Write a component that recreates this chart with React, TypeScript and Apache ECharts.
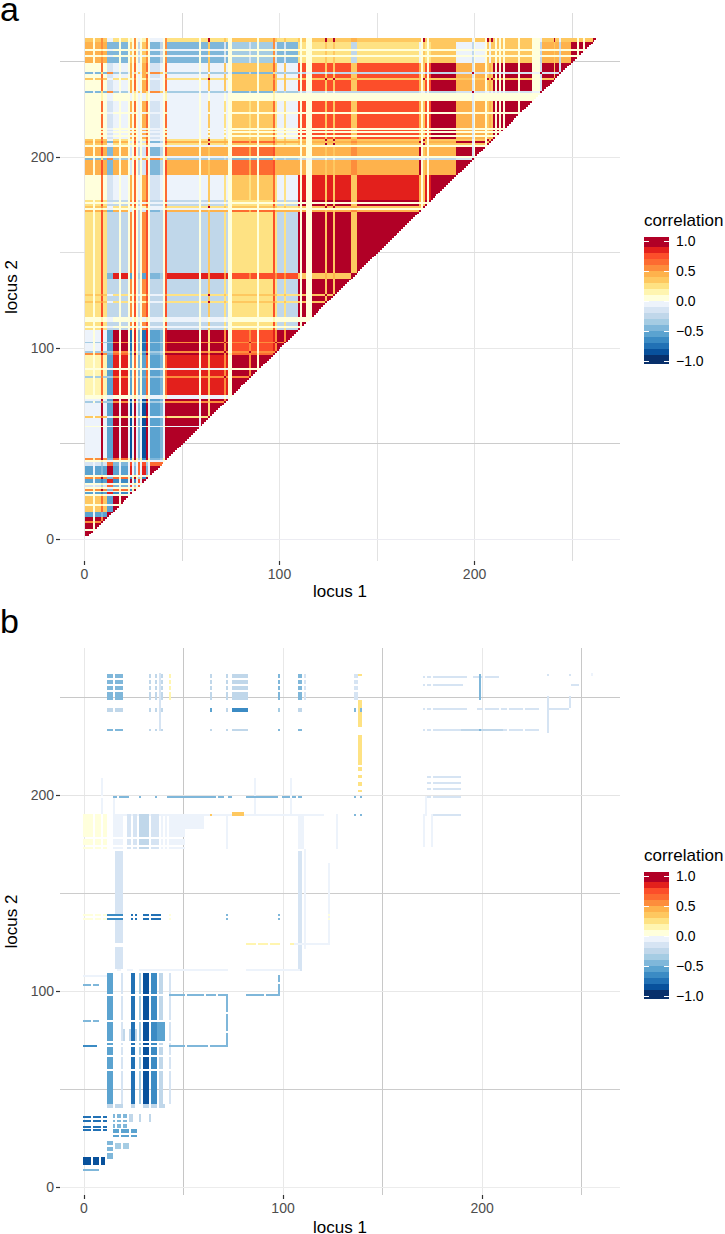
import React, { useEffect, useRef } from "react";
import * as echarts from "echarts";

// ---------- scale ----------
const palette = [
  "#08306b", "#08519c", "#2171b5", "#3b8bc4", "#5ba3d0", "#7fb7da", "#a5cce3", "#c0d7ea", "#d6e4f3", "#edf3fb",
  "#ffffdc", "#fff5b0", "#fee283", "#fec860", "#feb24c", "#fd8d3c", "#fd6b31", "#fc4e2a", "#e3201c", "#b10026",
];
const legendTicks = [-1, -0.5, 0, 0.5, 1];
const axisTicks = [0, 100, 200];

// ---------- panel a: class of each locus (class:last locus of the run) ----------
const classOrder = ["z", "w", "t", "f", "m", "a", "e", "g", "y", "n", "o", "h", "r", "i", "p", "b", "j", "q", "l", "k"];
const locusRunsA =
  "z:4 w:5 z:8 t:9 z:11 f:14 a:17 w:18 a:22 w:23 e:24 w:25 t:26 w:27 g:28 w:29 e:31 t:32 w:33 f:38 g:40 w:41 t:42 " +
  "m:58 w:59 m:63 k:64 m:71 y:72 m:73 w:75 n:84 y:85 n:88 w:89 n:96 t:97 y:98 o:102 y:103 o:109 h:110 w:111 h:113 w:116 " +
  "h:123 k:124 h:127 k:128 h:136 r:139 h:171 p:172 w:173 k:174 h:175 w:176 h:177 i:190 p:198 b:199 w:200 p:205 w:206 k:207 p:208 k:209 " +
  "j:210 w:211 j:212 w:213 j:214 w:215 j:222 w:223 j:229 w:233 b:234 q:240 k:241 q:243 b:244 q:249 l:252 w:253 l:255 w:256 l:260 k:262";
// lower triangle of the correlation between classes, same order as classOrder
const classCorrelation: number[][] = [
  [1],
  [0.05, 0.03],
  [0.5, 0.1, 0.95],
  [-0.55, -0.05, -0.5, 0.95],
  [-0.05, -0.02, 0.95, -0.55, 1],
  [0.35, 0.05, 0.6, -0.6, 1, 1],
  [-0.6, -0.05, -0.7, 0.85, -0.8, -0.7, 1],
  [-0.2, -0.03, -0.4, 0.6, -0.5, -0.5, 0.7, 0.6],
  [-0.4, 0.05, 0.5, -0.4, 0.55, 0.55, -0.5, -0.3, 0.95],
  [0.15, 0.03, 0.65, -0.55, 0.85, 0.85, -0.6, -0.45, 0.55, 0.95],
  [-0.05, 0.03, 0.85, -0.55, 0.95, 0.95, -0.75, -0.5, 0.55, 0.75, 1],
  [0.25, 0.03, 0.75, -0.25, -0.25, -0.25, 0.55, -0.25, 0.25, 0.25, -0.25, 1],
  [0.2, 0.05, 0.7, -0.5, 0.85, 0.85, -0.6, -0.4, 0.5, 0.7, 0.7, 0.35, 0.95],
  [0.08, 0.03, 0.65, -0.15, -0.05, -0.05, 0.45, -0.08, 0.25, 0.38, -0.05, 0.85, 0.35, 1],
  [0.45, 0.03, 0.7, -0.45, 0.45, 0.45, -0.2, -0.3, 0.4, 0.65, 0.45, 0.42, 0.5, 0.42, 0.95],
  [-0.5, -0.05, 0.25, 0.5, -0.35, -0.35, 0.4, 0.3, -0.3, -0.45, -0.35, -0.25, -0.3, -0.25, -0.2, 0.95],
  [0.08, 0.03, 0.65, -0.15, -0.05, -0.05, 0.45, -0.08, 0.25, 0.3, -0.05, 0.75, 0.3, 0.95, 0.42, -0.2, 1],
  [0.05, 0.03, 0.65, -0.15, -0.05, -0.05, 0.45, -0.08, 0.3, 0.3, -0.05, 0.75, 0.3, 0.95, 0.42, -0.2, 0.95, 1],
  [0.45, 0.03, 0.5, -0.45, -0.45, -0.45, 0.3, -0.3, -0.2, -0.35, -0.45, 0.25, -0.3, 0.35, -0.02, -0.3, 0.35, 0.45, 1],
  [0.3, 0.05, 0.5, -0.1, 0.25, 0.25, 0.1, -0.1, 0.3, 0.35, 0.25, 0.3, 0.4, 0.3, 0.3, -0.1, 0.3, 0.3, 0.3, 0.95],
];

// ---------- panel b: blocks [locus-1 intervals, locus-2 intervals, correlation] ----------
type Iv = number[][];
type Patch = [Iv, Iv, number];
const topRows: Iv = [[260, 261], [257, 258], [254, 255], [249, 252]];
const blockRows: Iv = [[99, 109], [86, 97], [75, 84], [73, 73], [68, 71], [61, 66], [43, 59]];
const yellowRows: Iv = [[179, 190], [175, 177], [173, 173]];
const blocksB: Patch[] = [
  [[[12, 14], [16, 19]], topRows, -0.42],
  [[[33, 33], [36, 36], [39, 39]], topRows, -0.3],
  [[[43, 43]], topRows, 0.15],
  [[[64, 64], [72, 72]], topRows, -0.25],
  [[[75, 82]], topRows, -0.28],
  [[[98, 98], [108, 109]], topRows, -0.45],
  [[[111, 111], [137, 137]], topRows, -0.12],
  [[[12, 14], [16, 19]], [[243, 244]], -0.3],
  [[[33, 33], [36, 36], [39, 39], [72, 72], [108, 109]], [[243, 244]], -0.3],
  [[[64, 64]], [[243, 244]], -0.6],
  [[[75, 82]], [[243, 244]], -0.7],
  [[[98, 98]], [[243, 244]], -0.4],
  [[[12, 14], [16, 19]], [[233, 233]], -0.42],
  [[[33, 33], [36, 36], [39, 39], [64, 64], [72, 72]], [[233, 233]], -0.3],
  [[[75, 82]], [[233, 233]], -0.3],
  [[[98, 98], [108, 109]], [[233, 233]], -0.42],
  [[[38, 38]], [[233, 262]], -0.15],
  [[[138, 139]], [[261, 261], [235, 248], [216, 230], [213, 214], [209, 210], [205, 206], [202, 202]], 0.25],
  [[[136, 136], [139, 139]], [[243, 244], [199, 199], [190, 190]], -0.5],
  [[[136, 136]], topRows, -0.15],
  [[[171, 171], [173, 174], [176, 190]], [[260, 260], [256, 256], [244, 244], [233, 233]], -0.15],
  [[[191, 192], [196, 200], [202, 208]], [[260, 260]], -0.12],
  [[[191, 192], [198, 200], [202, 208], [210, 212], [214, 220], [222, 228]], [[244, 244], [233, 233]], -0.15],
  [[[190, 210]], [[233, 233]], -0.3],
  [[[199, 199]], [[249, 261], [233, 233]], -0.42],
  [[[233, 233]], [[232, 250]], -0.12],
  [[[234, 243]], [[244, 244]], -0.2],
  [[[244, 244]], [[245, 250]], -0.2],
  [[[245, 248]], [[256, 256]], -0.2],
  [[[233, 233], [244, 244]], [[261, 261]], -0.12],
  [[[255, 255]], [[261, 262]], -0.08],
  [[[173, 174], [176, 189]], [[209, 209], [206, 206], [203, 203], [199, 199]], -0.15],
  [[[172, 172]], [[190, 199]], -0.1],
  [[[171, 171], [175, 175]], [[174, 190]], -0.1],
  [[[176, 189]], [[190, 190]], -0.2],
  [[[15, 16], [18, 22], [28, 28], [36, 36], [42, 60], [61, 66], [68, 70], [73, 74], [82, 97], [100, 103], [105, 106], [108, 109]], [[199, 199]], -0.5],
  [[[15, 15], [9, 9], [86, 86], [104, 104]], [[191, 198]], -0.1],
  [[[9, 9], [86, 86], [104, 104]], [[200, 208]], -0.08],
  [[[15, 120]], [[190, 190]], -0.03],
  [[[75, 80]], [[190, 191]], 0.35],
  [[[64, 64]], [[190, 190]], 0.3],
  [[[0, 4], [6, 8], [10, 11]], yellowRows, 0.05],
  [[[15, 19]], yellowRows, -0.05],
  [[[22, 23], [25, 26]], yellowRows, -0.15],
  [[[28, 32]], yellowRows, -0.25],
  [[[34, 37]], yellowRows, -0.2],
  [[[39, 39]], yellowRows, -0.1],
  [[[41, 41]], yellowRows, -0.05],
  [[[43, 60]], [[183, 190]], -0.03],
  [[[43, 50]], yellowRows, -0.03],
  [[[72, 72], [108, 110]], [[173, 190]], -0.07],
  [[[127, 127]], [[173, 190]], -0.03],
  [[[16, 19]], [[140, 171], [125, 136], [112, 122]], -0.18],
  [[[108, 109]], [[111, 171]], -0.18],
  [[[111, 111]], [[122, 172]], -0.03],
  [[[123, 123]], [[124, 165]], -0.03],
  [[[0, 4], [6, 8], [10, 11], [43, 43], [123, 123]], [[137, 137], [139, 139]], 0.08],
  [[[12, 19]], [[137, 137], [139, 139]], -0.7],
  [[[24, 24], [26, 26], [30, 32], [34, 38]], [[137, 137], [139, 139]], -0.75],
  [[[72, 72], [98, 98]], [[137, 137], [139, 139]], -0.5],
  [[[82, 86], [88, 92], [94, 98], [104, 105]], [[124, 124]], 0.15],
  [[[106, 123]], [[124, 124]], -0.03],
  [[[17, 18], [22, 24], [28, 72], [82, 108]], [[111, 111]], -0.05],
  [[[0, 11]], [[108, 108]], -0.05],
  [[[0, 3], [5, 7]], [[103, 103]], -0.45],
  [[[0, 3], [5, 7]], [[85, 85]], -0.5],
  [[[0, 6]], [[72, 72]], -0.7],
  [[[43, 50], [52, 60], [62, 66], [68, 72], [82, 90], [92, 98]], [[98, 98]], -0.5],
  [[[72, 72]], [[73, 78], [80, 88], [90, 97]], -0.45],
  [[[98, 98]], [[99, 103], [105, 108]], -0.45],
  [[[43, 50], [52, 62], [64, 72]], [[72, 72]], -0.5],
  [[[12, 14]], blockRows, -0.55],
  [[[24, 25]], blockRows, -0.75],
  [[[30, 32]], blockRows, -0.8],
  [[[34, 36]], blockRows, -0.7],
  [[[28, 28]], blockRows, -0.4],
  [[[19, 19], [43, 43]], blockRows, -0.12],
  [[[38, 39]], blockRows, -0.3],
  [[[37, 40]], [[75, 84]], -0.55],
  [[[20, 20], [23, 23], [26, 26]], [[75, 80]], -0.3],
  [[[12, 14], [16, 19], [24, 25], [30, 32], [34, 36], [38, 40]], [[41, 42]], -0.3],
  [[[0, 3], [5, 8], [10, 11]], [[36, 36], [34, 34], [31, 31], [29, 29]], -0.75],
  [[[15, 15], [17, 18], [20, 21]], [[36, 37], [34, 34], [31, 32]], -0.5],
  [[[23, 24], [28, 28], [33, 33]], [[36, 37], [34, 35]], -0.3],
  [[[15, 17], [19, 22], [24, 26]], [[28, 29], [26, 26]], -0.6],
  [[[16, 18], [20, 22]], [[20, 22]], -0.4],
  [[[12, 14]], [[15, 17], [19, 20], [22, 23]], -0.5],
  [[[0, 3], [5, 7], [9, 10]], [[12, 15]], -0.8],
  [[[0, 7]], [[9, 9]], -0.5],
];

// ---------- gridlines: [value, colour] ----------
const gridAX: [number, string][] = [[0, "#e6e6e6"], [50, "#d8d8d8"], [100, "#e6e6e6"], [150, "#e2e2e2"], [200, "#e4e4e4"], [250, "#dcdcdc"]];
const gridAY: [number, string][] = [[0, "#ececf2"], [50, "#cccccc"], [100, "#e8e8e8"], [150, "#dedede"], [200, "#e8e8e8"], [250, "#cccccc"]];
const gridBX: [number, string][] = [[0, "#e8e8e8"], [50, "#c6c6c6"], [100, "#e8e8e8"], [150, "#c8c8c8"], [200, "#e8e8e8"], [250, "#c8c8c8"]];
const gridBY: [number, string][] = [[0, "#ececec"], [50, "#cccccc"], [100, "#e8e8e8"], [150, "#cccccc"], [200, "#e4e4e4"], [250, "#c8c8c8"]];

const LOW = -1.05;
const HIGH = 1.067;

function bin(v: number) {
  return Math.max(0, Math.min(19, Math.floor((v + 1) * 10)));
}

function cellsA(): number[][] {
  const labels: string[] = [];
  let locus = 1;
  for (const run of locusRunsA.split(" ")) {
    const [c, end] = run.split(":");
    for (; locus <= Number(end); locus++) labels[locus] = c;
  }
  const idx = (l: number) => classOrder.indexOf(labels[l]);
  const look = (a: number, b: number) => (a >= b ? classCorrelation[a][b] : classCorrelation[b][a]);
  const out: number[][] = [];
  for (let y = 2; y <= 262; y++) {
    const iy = idx(y);
    let start = 1;
    let cur = bin(look(idx(1), iy));
    for (let x = 2; x <= y + 1; x++) {
      const b = x <= y ? bin(look(idx(x), iy)) : -1;
      if (b !== cur) {
        out.push([start - 0.5, x - 0.5, y - 0.5, y + 0.5, cur]);
        start = x;
        cur = b;
      }
    }
  }
  return out;
}

function cellsB(): number[][] {
  const out: number[][] = [];
  for (const [cols, rows, v] of blocksB) {
    for (const c of cols) for (const r of rows) out.push([c[0] - 0.5, c[1] + 0.5, r[0] - 0.5, r[1] + 0.5, bin(v)]);
  }
  return out;
}

function rectRender(_p: any, api: any) {
  const a = api.coord([api.value(0), api.value(3)]);
  const b = api.coord([api.value(1), api.value(2)]);
  const x = Math.round(a[0]);
  const y = Math.round(a[1]);
  return {
    type: "rect",
    shape: { x, y, width: Math.round(b[0]) - x, height: Math.round(b[1]) - y },
    style: { fill: palette[api.value(4)] },
  };
}

const legendBands = palette.map((_, i) => [0, 1, i === 0 ? LOW : -1 + i / 10, i === 19 ? HIGH : -1 + (i + 1) / 10, i]);

function panelSeries(g: number, cells: number[][], gx: [number, string][], gy: [number, string][]) {
  const lineRender = (vertical: boolean, list: [number, string][]) => (p: any, api: any) => {
    const v = api.value(0);
    const cs = p.coordSys;
    const c = Math.floor(api.coord(vertical ? [v, 0] : [0, v])[vertical ? 0 : 1]) + 0.5;
    return {
      type: "line",
      shape: vertical ? { x1: c, x2: c, y1: cs.y, y2: cs.y + cs.height } : { x1: cs.x, x2: cs.x + cs.width, y1: c, y2: c },
      style: { stroke: list[p.dataIndex][1], lineWidth: 1 },
    };
  };
  const base = { type: "custom", xAxisIndex: g, yAxisIndex: g, silent: true, animation: false, progressive: 0, clip: false };
  return [
    { ...base, z: 1, renderItem: lineRender(true, gx), data: gx.map((d) => [d[0]]) },
    { ...base, z: 1, renderItem: lineRender(false, gy), data: gy.map((d) => [d[0]]) },
    { ...base, z: 2, renderItem: rectRender, data: cells },
  ];
}

function legendSeries(g: number) {
  const base = { type: "custom", xAxisIndex: g, yAxisIndex: g, silent: true, animation: false, progressive: 0, clip: false };
  const tickRender = (_p: any, api: any) => {
    const y = Math.round(api.coord([0, api.value(0)])[1]) + 0.5;
    const l = api.coord([0, 0])[0];
    const r = api.coord([1, 0])[0];
    return {
      type: "group",
      children: [
        { type: "line", shape: { x1: l, x2: l + 5, y1: y, y2: y }, style: { stroke: "#ffffff", lineWidth: 1 } },
        { type: "line", shape: { x1: r - 5, x2: r, y1: y, y2: y }, style: { stroke: "#ffffff", lineWidth: 1 } },
      ],
    };
  };
  return [
    { ...base, z: 2, renderItem: rectRender, data: legendBands },
    { ...base, z: 3, renderItem: tickRender, data: legendTicks.map((t) => [t]) },
  ];
}

const FONT = "'Liberation Sans', Arial, sans-serif";

function panelAxes(top: number, bottom: number, xr: number[], yr: number[], gapX: number) {
  const height = bottom - top;
  const label = { color: "#4d4d4d", fontSize: 14, fontFamily: FONT, customValues: axisTicks, margin: 6 };
  const tick = { show: true, length: 4, customValues: axisTicks, lineStyle: { color: "#333333", width: 1.2 } };
  const name = { color: "#000000", fontSize: 17, fontFamily: FONT };
  const line = { show: false, onZero: false };
  return {
    grid: { left: 60, width: 560, top, height, containLabel: false, outerBoundsMode: "none" },
    x: {
      type: "value", min: xr[0], max: xr[1], name: "locus 1", nameLocation: "middle", nameGap: gapX, nameTextStyle: name,
      axisLine: line, axisTick: tick, axisLabel: label, splitLine: { show: false },
    },
    y: {
      type: "value", min: yr[0], max: yr[1], name: "locus 2", nameLocation: "middle", nameGap: 36, nameTextStyle: name,
      axisLine: line, axisTick: tick, axisLabel: label, splitLine: { show: false },
    },
  };
}

function legendAxes(top: number) {
  return {
    grid: { left: 644, width: 25, top, height: 127, outerBoundsMode: "none" },
    x: { type: "value", min: 0, max: 1, show: false },
    y: {
      type: "value", min: LOW, max: HIGH, position: "right",
      axisLine: { show: false, onZero: false }, axisTick: { show: false }, splitLine: { show: false },
      axisLabel: {
        color: "#000000", fontSize: 14, fontFamily: FONT, margin: 7, customValues: legendTicks,
        formatter: (v: number) => v.toFixed(1).replace("-", "\u2212"),
      },
    },
  };
}

export default function App() {
  const ref = useRef<HTMLDivElement>(null);
  useEffect(() => {
    const chart = echarts.init(ref.current!, undefined, { renderer: "svg" });
    const pa = panelAxes(13, 561, [-12.56, 274.6], [-11.4, 275.5], 22);
    const pb = panelAxes(648, 1195, [-12.06, 269.3], [-3.9, 275], 24);
    const la = legendAxes(237);
    const lb = legendAxes(872);
    const text = (t: string, x: number, y: number, size: number) => ({
      type: "text", x, y, style: { text: t, fontSize: size, fontFamily: FONT, fill: "#000000", textVerticalAlign: "middle" },
    });
    chart.setOption({
      animation: false,
      backgroundColor: "#ffffff",
      grid: [pa.grid, la.grid, pb.grid, lb.grid],
      xAxis: [
        { ...pa.x, gridIndex: 0 }, { ...la.x, gridIndex: 1 },
        { ...pb.x, gridIndex: 2 }, { ...lb.x, gridIndex: 3 },
      ],
      yAxis: [
        { ...pa.y, gridIndex: 0 }, { ...la.y, gridIndex: 1 },
        { ...pb.y, gridIndex: 2 }, { ...lb.y, gridIndex: 3 },
      ],
      series: [
        ...panelSeries(0, cellsA(), gridAX, gridAY),
        ...legendSeries(1),
        ...panelSeries(2, cellsB(), gridBX, gridBY),
        ...legendSeries(3),
      ],
      graphic: [
        text("a", 0, 9, 34),
        text("b", 0, 621, 34),
        text("correlation", 644, 220, 17),
        text("correlation", 644, 855, 17),
      ],
    });
    return () => chart.dispose();
  }, []);
  return <div ref={ref} style={{ position: "absolute", left: 0, top: 0, width: 725, height: 1234 }} />;
}
